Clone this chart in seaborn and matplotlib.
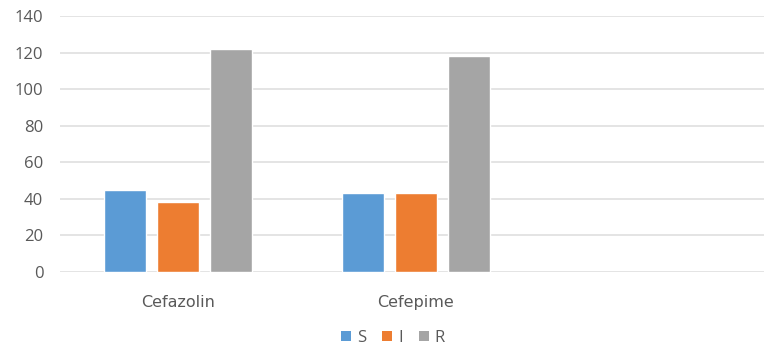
import matplotlib
matplotlib.use("Agg")
import matplotlib.pyplot as plt
import seaborn as sns
import pandas as pd
from matplotlib.patches import Patch

antibiotics = ["Cefazolin", "Cefepime"]
susceptible = [45, 43]
intermediate = [38, 43]
resistant = [122, 118]
y_ticks = [0, 20, 40, 60, 80, 100, 120, 140]

colors = {"S": "#5B9BD5", "I": "#ED7D31", "R": "#A5A5A5"}

df = pd.DataFrame({
    "drug": antibiotics * 3,
    "result": ["S"] * 2 + ["I"] * 2 + ["R"] * 2,
    "count": susceptible + intermediate + resistant,
})

sns.set_theme(style="white")
plt.rcParams["font.family"] = ["Open Sans", "DejaVu Sans"]

W, H = 764, 351
fig = plt.figure(figsize=(W / 100, H / 100), dpi=100)
left, right = 60 / W, 1.0
bottom, top = (H - 271.7) / H, (H - 16) / H
ax = fig.add_axes([left, bottom, right - left, top - bottom])

sns.barplot(data=df, x="drug", y="count", hue="result",
            palette=colors, order=antibiotics, hue_order=["S", "I", "R"],
            width=0.668, gap=0.226, saturation=1, ax=ax, legend=False)

ax.set_ylim(0, 140)
ax.set_yticks(y_ticks)
x0 = -0.5 + 1.0 / 238
ax.set_xlim(x0, x0 + (W - 60) / 238)
ax.yaxis.grid(True, color="#DDDDDD", linewidth=1.1)
ax.set_axisbelow(True)
for s in ax.spines.values():
    s.set_visible(False)
ax.set_xlabel("")
ax.set_ylabel("")
ax.tick_params(axis="y", length=0, pad=12, labelsize=12, labelcolor="#595959")
ax.tick_params(axis="x", length=0, pad=16.5, labelsize=11.5, labelcolor="#595959")
for lbl in ax.get_xticklabels():
    lbl.set_fontfamily("DejaVu Sans")

handles = [Patch(facecolor=colors[k], edgecolor="none", label=k) for k in ["S", "I", "R"]]
fig.legend(handles=handles, loc="center", bbox_to_anchor=(393 / W, (H - 338) / H),
           ncol=3, frameon=False, fontsize=12, labelcolor="#595959",
           handlelength=0.6, handleheight=0.6, handletextpad=0.35,
           columnspacing=0.95, borderpad=0)

fig.savefig("out.png", dpi=100)
